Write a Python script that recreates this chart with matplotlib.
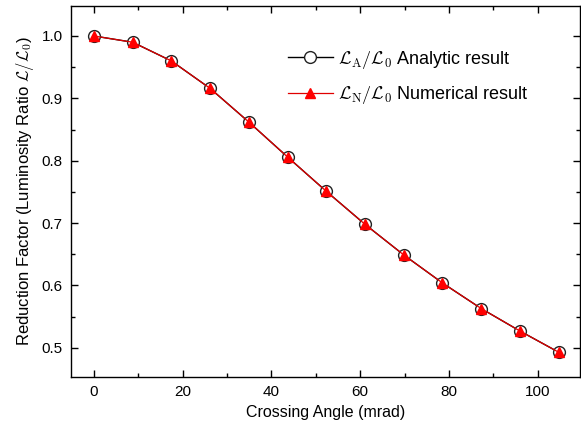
import numpy as np
import matplotlib.pyplot as plt
from matplotlib.ticker import MultipleLocator

plt.rcParams['font.family'] = ['Liberation Sans', 'DejaVu Sans']
plt.rcParams['mathtext.fontset'] = 'cm'

# crossing angle in mrad (0 to 6 degrees in 0.5 degree steps)
angle = [0.0, 8.73, 17.45, 26.18, 34.91, 43.63, 52.36, 61.09, 69.81, 78.54, 87.27, 95.99, 104.72]
analytic = [1.000, 0.990, 0.960, 0.916, 0.862, 0.806, 0.751, 0.698, 0.649, 0.604, 0.563, 0.527, 0.493]
numerical = [1.000, 0.990, 0.960, 0.916, 0.862, 0.806, 0.751, 0.698, 0.649, 0.604, 0.563, 0.527, 0.493]

fig = plt.figure(figsize=(5.81, 4.33), dpi=100)
ax = fig.add_axes([0.122, 0.129, 0.876, 0.857])

ax.plot(angle, analytic, color='black', lw=1.0, marker='o', markersize=8.5,
        markerfacecolor='white', markeredgecolor='#222222', markeredgewidth=1.0,
        label=r'$\mathcal{L}_\mathrm{A}/\mathcal{L}_0$ Analytic result')
ax.plot(angle, numerical, color='#e00000', lw=0.9, marker='^', markersize=6.5,
        markerfacecolor='red', markeredgecolor='red',
        label=r'$\mathcal{L}_\mathrm{N}/\mathcal{L}_0$ Numerical result')

ax.set_xlim(-5.2, 109.5)
ax.set_ylim(0.453, 1.048)
ax.xaxis.set_major_locator(MultipleLocator(20))
ax.xaxis.set_minor_locator(MultipleLocator(10))
ax.yaxis.set_major_locator(MultipleLocator(0.1))
ax.yaxis.set_minor_locator(MultipleLocator(0.05))
ax.tick_params(which='both', direction='in', top=True, right=True, labelsize=11)
ax.tick_params(which='major', length=5, width=1)
ax.tick_params(which='minor', length=3, width=1)
ax.tick_params(axis='both', which='major', pad=6)
for s in ax.spines.values():
    s.set_linewidth(1.0)

ax.set_xlabel('Crossing Angle (mrad)', fontsize=11.5)
ax.set_ylabel(r'Reduction Factor (Luminosity Ratio $\mathcal{L}/\mathcal{L}_0$)', fontsize=12)

ax.legend(loc='upper left', bbox_to_anchor=(0.426, 0.885), frameon=False, fontsize=13,
          borderpad=0, borderaxespad=0, labelspacing=0.75, handlelength=2.5,
          handletextpad=0.3)

fig.savefig('out.png', dpi=100)
